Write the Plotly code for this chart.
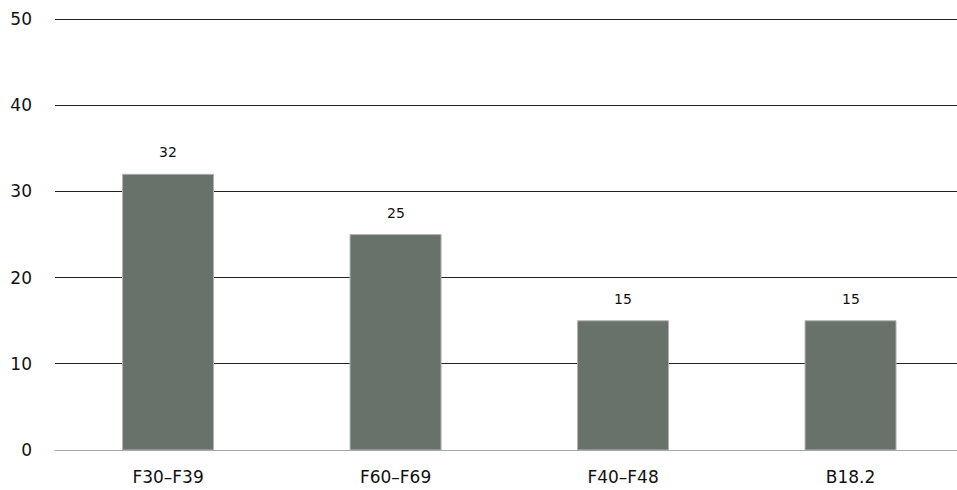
import plotly.graph_objects as go

categories = ["F30–F39", "F60–F69", "F40–F48", "B18.2"]
values = [32, 25, 15, 15]
y_ticks = [0, 10, 20, 30, 40, 50]

fig = go.Figure()
fig.add_trace(go.Bar(
    x=categories, y=values, width=0.4,
    marker=dict(color="#68726A", line=dict(color="#b0b3b0", width=1)),
    hoverinfo="skip",
))
for c, v in zip(categories, values):
    fig.add_annotation(x=c, y=v, text=str(v), showarrow=False, yshift=22,
                       font=dict(family="DejaVu Sans", size=14, color="#111"))

fig.update_layout(
    width=957, height=490,
    margin=dict(l=55, r=0, t=2, b=40),
    plot_bgcolor="white", paper_bgcolor="white",
    showlegend=False,
    font=dict(family="DejaVu Sans", size=17, color="#111"),
    bargap=0.6,
)
fig.update_xaxes(range=[-0.497, 3.468], showgrid=False, showline=False,
                 ticks="", tickfont=dict(size=17), ticklabelstandoff=15)
fig.update_yaxes(range=[0, 52], tickvals=y_ticks, showgrid=True,
                 gridcolor="#222", gridwidth=1, zeroline=True,
                 zerolinecolor="#a8a8a8", zerolinewidth=1,
                 ticks="", ticklabelstandoff=22, tickfont=dict(size=17))

fig.write_html("out.html")
